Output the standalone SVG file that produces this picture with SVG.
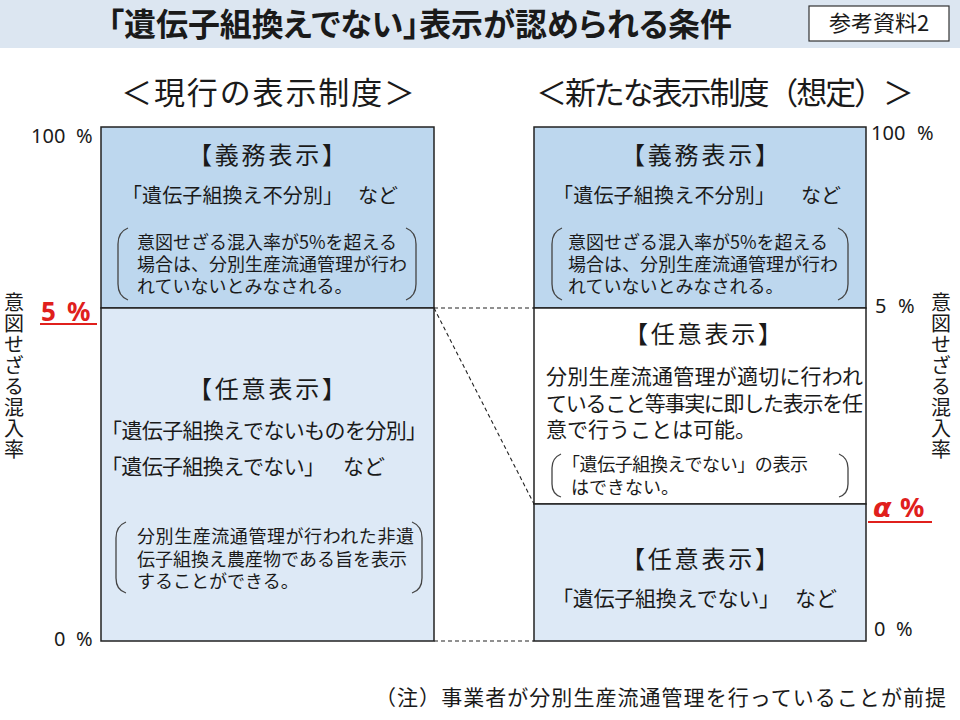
<svg xmlns="http://www.w3.org/2000/svg" width="960" height="720" viewBox="0 0 960 720">
<style>
.jp{font-family:"Noto Sans CJK JP","Noto Sans",sans-serif;fill:#1a1a1a}
.num{font-family:"Noto Sans","Liberation Sans",sans-serif;fill:#1a1a1a}
.palt{font-feature-settings:"palt"}
.vert{writing-mode:vertical-rl;font-family:"Noto Sans CJK JP",sans-serif;fill:#1a1a1a}
.box{stroke:#222;stroke-width:1.5}
.dark{fill:#bdd7ee}
.light{fill:#dde9f6}
.white{fill:#ffffff}
.br{fill:none;stroke:#444;stroke-width:1.3}
.dash{fill:none;stroke:#222;stroke-width:1.1;stroke-dasharray:4 3}
.red{fill:#e0201c;font-weight:bold}
.redline{stroke:#e0201c;stroke-width:2}
</style>
<rect width="960" height="720" fill="#ffffff"/>
<g id="title">
<rect x="0" y="0" width="960" height="48" fill="#dce6f1"/>
<text class="jp palt" x="108" y="36" font-size="32" font-weight="bold" textLength="624" lengthAdjust="spacingAndGlyphs">「遺伝子組換えでない」表示が認められる条件</text>
</g>
<g id="ref-label">
<rect x="809" y="6" width="140" height="35" fill="#ffffff" stroke="#333" stroke-width="1.2"/>
<text class="jp" x="879" y="31" font-size="22" text-anchor="middle">参考資料2</text>
</g>
<g id="heading-left">
<text class="jp" x="121" y="104" font-size="31" textLength="294">＜現行の表示制度＞</text>
</g>
<g id="heading-right">
<text class="jp" x="536" y="104" font-size="31" textLength="378">＜新たな表示制度（想定）＞</text>
</g>

<g id="connectors">
<line class="dash" x1="434" y1="308" x2="534" y2="308"/>
<line class="dash" x1="434" y1="308" x2="534" y2="504"/>
<line class="dash" x1="434" y1="641" x2="534" y2="641"/>
</g>

<g id="left-mandatory">
<rect class="box dark" x="101" y="127" width="333" height="181"/>
<text class="jp" x="267" y="164" font-size="24" text-anchor="middle" textLength="158">【義務表示】</text>
<text class="jp" x="122" y="203" font-size="20" textLength="221">「遺伝子組換え不分別」</text>
<text class="jp" x="358" y="203" font-size="20">など</text>
<path class="br" d="M128,228 Q118,232 118,244 L118,284 Q118,296 128,300"/>
<path class="br" d="M406,228 Q416,232 416,244 L416,284 Q416,296 406,300"/>
<text class="jp" x="137" y="249" font-size="18">意図せざる混入率が5%を超える</text>
<text class="jp" x="137" y="271" font-size="18">場合は、分別生産流通管理が行わ</text>
<text class="jp" x="137" y="293" font-size="18">れていないとみなされる。</text>
</g>

<g id="left-optional">
<rect class="box light" x="101" y="308" width="333" height="333"/>
<text class="jp" x="267" y="398" font-size="24" text-anchor="middle" textLength="158">【任意表示】</text>
<text class="jp" x="101" y="438" font-size="21" textLength="326">「遺伝子組換えでないものを分別」</text>
<text class="jp" x="101" y="474" font-size="21" textLength="224">「遺伝子組換えでない」</text>
<text class="jp" x="343" y="474" font-size="21">など</text>
<path class="br" d="M126,522 Q116,526 116,538 L116,578 Q116,590 126,593"/>
<path class="br" d="M412,522 Q422,526 422,538 L422,578 Q422,590 412,593"/>
<text class="jp" x="137" y="543" font-size="18" textLength="277">分別生産流通管理が行われた非遺</text>
<text class="jp" x="137" y="566" font-size="18" textLength="270">伝子組換え農産物である旨を表示</text>
<text class="jp" x="137" y="588" font-size="18">することができる。</text>
</g>

<g id="right-mandatory">
<rect class="box dark" x="534" y="127" width="332" height="181"/>
<text class="jp" x="700" y="164" font-size="24" text-anchor="middle" textLength="158">【義務表示】</text>
<text class="jp" x="553" y="203" font-size="20" textLength="222">「遺伝子組換え不分別」</text>
<text class="jp" x="801" y="203" font-size="20">など</text>
<path class="br" d="M562,228 Q552,232 552,244 L552,284 Q552,296 562,300"/>
<path class="br" d="M838,228 Q848,232 848,244 L848,284 Q848,296 838,300"/>
<text class="jp" x="568" y="249" font-size="18">意図せざる混入率が5%を超える</text>
<text class="jp" x="568" y="271" font-size="18">場合は、分別生産流通管理が行わ</text>
<text class="jp" x="568" y="293" font-size="18">れていないとみなされる。</text>
</g>

<g id="right-optional-middle">
<rect class="box white" x="534" y="308" width="332" height="196"/>
<text class="jp" x="703" y="343" font-size="24" text-anchor="middle" textLength="158">【任意表示】</text>
<text class="jp" x="546" y="384" font-size="21" textLength="317">分別生産流通管理が適切に行われ</text>
<text class="jp" x="546" y="411" font-size="21" textLength="317">ていること等事実に即した表示を任</text>
<text class="jp" x="546" y="437" font-size="21">意で行うことは可能。</text>
<path class="br" d="M561,454 Q552,458 552,468 L552,484 Q552,494 561,497"/>
<path class="br" d="M839,454 Q848,458 848,468 L848,484 Q848,494 839,497"/>
<text class="jp" x="562" y="471" font-size="18" textLength="246">「遺伝子組換えでない」の表示</text>
<text class="jp" x="571" y="494" font-size="18">はできない。</text>
</g>

<g id="right-optional-bottom">
<rect class="box light" x="534" y="504" width="332" height="137"/>
<text class="jp" x="700" y="568" font-size="24" text-anchor="middle" textLength="158">【任意表示】</text>
<text class="jp" x="552" y="606" font-size="21" textLength="228">「遺伝子組換えでない」</text>
<text class="jp" x="795" y="606" font-size="21">など</text>
</g>

<g id="axis-left">
<text class="num" y="143" font-size="20"><tspan x="31">100</tspan><tspan x="76">%</tspan></text>
<text class="num red" y="321" font-size="26"><tspan x="41">5</tspan><tspan x="67">%</tspan></text>
<line class="redline" x1="40" y1="324" x2="97" y2="324"/>
<text class="num" y="646" font-size="20"><tspan x="54">0</tspan><tspan x="76">%</tspan></text>
<text class="vert" x="14" y="292" font-size="20" letter-spacing="1">意図せざる混入率</text>
</g>

<g id="axis-right">
<text class="num" y="140" font-size="20"><tspan x="871">100</tspan><tspan x="917">%</tspan></text>
<text class="num" y="313" font-size="20"><tspan x="875">5</tspan><tspan x="898">%</tspan></text>
<text class="red" y="517" font-size="27"><tspan x="873" font-family="'DejaVu Sans',sans-serif" font-style="italic">α</tspan><tspan x="900" font-family="'Noto Sans',sans-serif">%</tspan></text>
<line class="redline" x1="868" y1="522" x2="932" y2="522"/>
<text class="num" y="636" font-size="20"><tspan x="874">0</tspan><tspan x="896">%</tspan></text>
<text class="vert" x="941" y="292" font-size="20" letter-spacing="1">意図せざる混入率</text>
</g>

<g id="footnote">
<text class="jp" x="375" y="705" font-size="21" textLength="571">（注）事業者が分別生産流通管理を行っていることが前提</text>
</g>
</svg>
